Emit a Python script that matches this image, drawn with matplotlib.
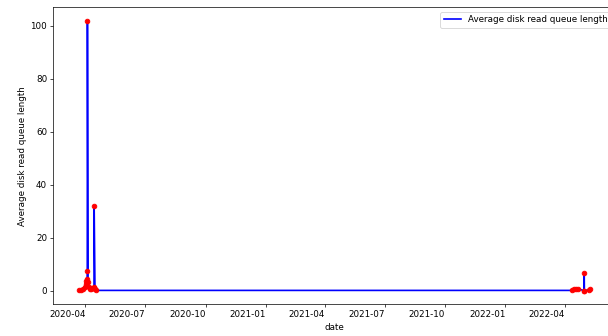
import matplotlib
matplotlib.use("Agg")
import matplotlib.pyplot as plt
import pandas as pd

# Sample timestamps and the average disk read queue length at each one
timestamps = [
    "2020-03-22 00:00", "2020-03-25 00:00", "2020-03-28 00:00", "2020-03-31 00:00",
    "2020-04-01 12:00", "2020-04-02 12:00", "2020-04-03 12:00", "2020-04-03 18:00",
    "2020-04-04 00:00", "2020-04-05 00:00", "2020-04-06 12:00", "2020-04-08 00:00",
    "2020-04-10 00:00", "2020-04-12 00:00", "2020-04-13 18:00", "2020-04-14 00:00",
    "2020-04-14 06:00", "2020-04-15 12:00", "2020-04-16 12:00",
    "2022-04-12 00:00", "2022-04-15 00:00", "2022-04-19 00:00", "2022-04-22 00:00",
    "2022-04-30 18:00", "2022-05-01 00:00", "2022-05-01 06:00",
    "2022-05-08 00:00", "2022-05-10 12:00",
]
queue_length = [
    0.1, 0.3, 0.8, 1.5,
    2.6, 3.8, 4.3, 7.6,
    101.8, 3.2, 1.2, 0.6,
    0.8, 1.0, 1.2, 0.9,
    32.0, 0.6, 0.1,
    0.1, 0.7, 0.8, 0.6,
    0.05, 6.8, 0.05,
    0.3, 0.7,
]

dates = pd.to_datetime(timestamps)

fig = plt.figure(figsize=(608 / 63, 336 / 63), dpi=63)
ax = fig.add_axes([0.0877, 0.0952, 1.0132 - 0.0877, 0.978 - 0.0952])

ax.plot(dates, queue_length, color="blue", linewidth=1.9,
        label="Average disk read queue length")
ax.scatter(dates, queue_length, color="red", s=28, zorder=3)

ax.set_xlabel("date")
ax.set_ylabel("Average disk read queue length")
ax.legend(loc="upper right")

for lbl in ax.get_xticklabels():
    lbl.set_horizontalalignment("right")

fig.savefig("out.png", dpi=63)
